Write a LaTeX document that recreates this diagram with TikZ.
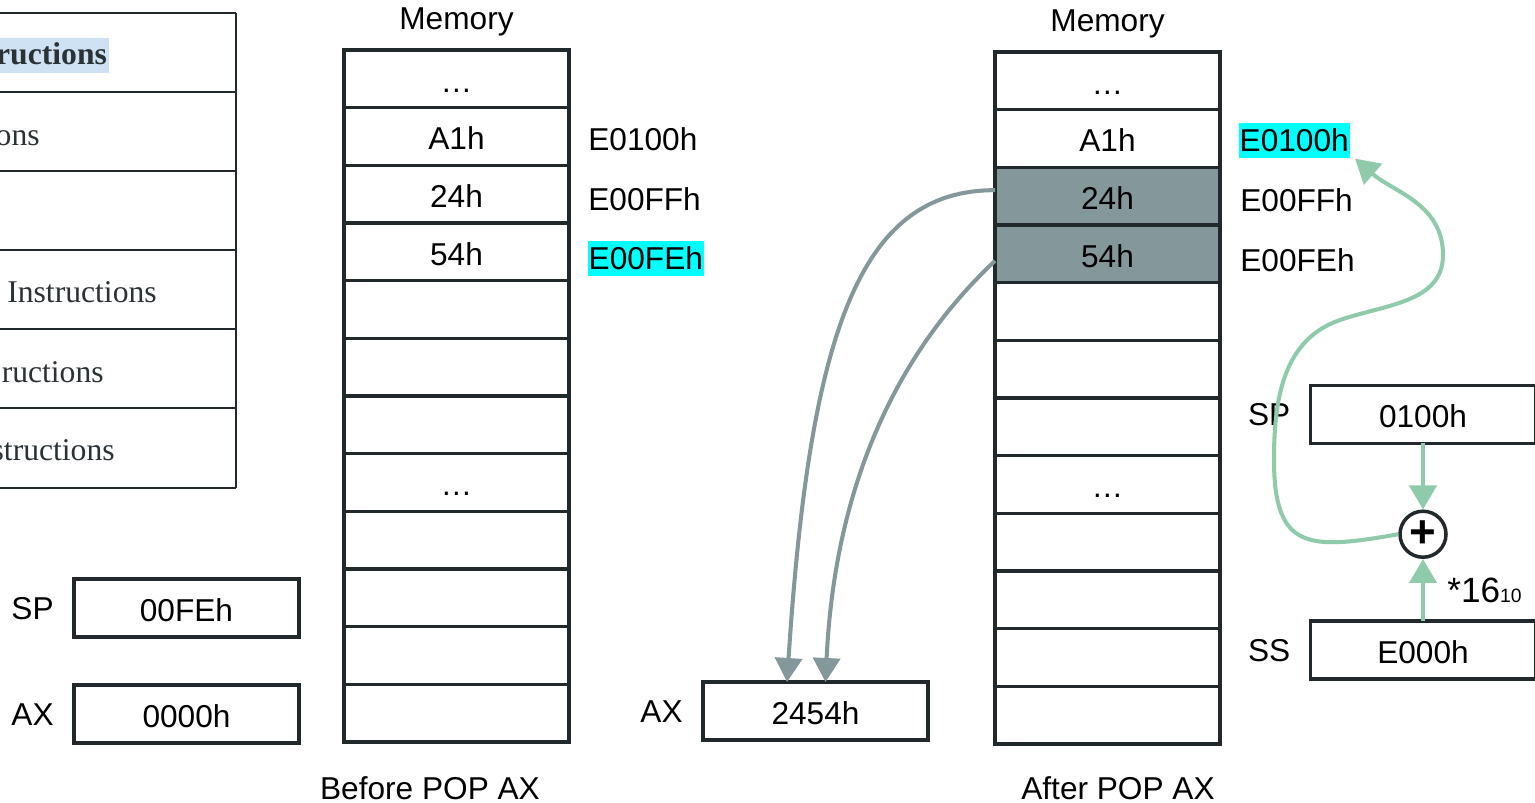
\documentclass[tikz,border=0pt]{standalone}
\usepackage{fontspec}
\setmainfont{Liberation Serif}
\setsansfont{Liberation Sans}
\usetikzlibrary{positioning, arrows.meta}

\definecolor{lineDark}{HTML}{22292C}
\definecolor{popGray}{HTML}{84979B}
\definecolor{flowGreen}{HTML}{8FCBAA}
\definecolor{hlCyan}{HTML}{00FFFF}
\definecolor{hlBlue}{HTML}{CFE2F3}
\definecolor{tblText}{HTML}{2A3235}

\tikzset{
  cell/.style={draw=lineDark, line width=1.8pt, minimum width=4.5cm, minimum height=1.153cm,
    inner sep=0pt, outer sep=0pt, text height=15pt, text depth=0pt,
    font=\sffamily\fontsize{18}{21}\selectfont},
  popped/.style={cell, fill=popGray},
  reg/.style={cell, minimum height=1.16cm},
  lbl/.style={inner sep=0pt, text height=13pt, text depth=0pt, font=\sffamily\fontsize{18}{21}\selectfont},
  hot/.style={lbl, fill=hlCyan, inner xsep=0.5pt, inner ysep=3.6pt},
  tbl/.style={inner sep=0pt, text=tblText, font=\rmfamily\fontsize{18}{21}\selectfont},
  grid/.style={draw=lineDark, line width=1.5pt},
  adder/.style={circle, draw=lineDark, line width=2pt, fill=white, minimum size=0.92cm, inner sep=0pt,
    font=\sffamily\bfseries\fontsize{26}{26}\selectfont},
  flow/.style={->, draw=flowGreen, line width=2.3pt},
  fetch/.style={->, draw=popGray, line width=2.3pt},
}

\begin{document}
\begin{tikzpicture}[x=0.02cm, y=-0.02cm, >={Triangle[width=0.54cm, length=0.48cm]}]
    \useasboundingbox (0,0) rectangle (1535,803);
    \clip (0,0) rectangle (1535,803);

    % Instruction table, cut by the left edge
    \foreach \y in {13,92,171,250,329,408,488}
        \draw[grid] (-5,\y) -- (236,\y);
    \draw[grid] (236,13) -- (236,488);
    \node[tbl, anchor=base east, fill=hlBlue, inner xsep=1pt, text height=15.2pt, text depth=4.7pt,
        font=\rmfamily\bfseries\fontsize{18}{21}\selectfont] (t1) at (109,65) {ructions};
    \node[tbl, anchor=base east] (t2) at (40,146) {ons};
    \node[tbl, anchor=base west] (t4) at (7,303) {Instructions};
    \node[tbl, anchor=base east] (t5) at (104,383) {ructions};
    \node[tbl, anchor=base east] (t6) at (115,461) {structions};

    % Memory before the pop
    \foreach \t [count=\i] in {…, A1h, 24h, 54h, {}, {}, {}, …, {}, {}, {}, {}}
        \node[cell] (b\i) at (456.5, {50+57.67*(\i-0.5)}) {\t};
    \node[lbl, above=0.4cm of b1] (memB) {Memory};
    \node[lbl, right=0.38cm of b2, yshift=-0.06cm] (b2a) {E0100h};
    \node[lbl, right=0.38cm of b3, yshift=-0.1cm] (b3a) {E00FFh};
    \node[hot, right=0.37cm of b4, yshift=-0.13cm] (b4a) {E00FEh};
    \node[lbl] (before) at (430,788) {Before POP AX};

    % Registers before the pop
    \node[reg] (sp1) at (186.5,608) {00FEh};
    \node[lbl, left=0.4cm of sp1] (sp1n) {SP};
    \node[reg] (ax1) at (186.5,714) {0000h};
    \node[lbl, left=0.4cm of ax1] (ax1n) {AX};

    % Memory after the pop
    \foreach \t/\s [count=\i] in {…/cell, A1h/cell, 24h/popped, 54h/popped, {}/cell, {}/cell,
                                  {}/cell, …/cell, {}/cell, {}/cell, {}/cell, {}/cell}
        \node[\s] (a\i) at (1107.5, {52+57.67*(\i-0.5)}) {\t};
    \node[lbl, above=0.4cm of a1] (memA) {Memory};
    \node[hot, right=0.37cm of a2, yshift=-0.04cm] (a2a) {E0100h};
    \node[lbl, right=0.4cm of a3, yshift=-0.08cm] (a3a) {E00FFh};
    \node[lbl, right=0.4cm of a4, yshift=-0.12cm] (a4a) {E00FEh};
    \node[lbl] (after) at (1118,788) {After POP AX};

    % Registers after the pop
    \node[reg] (ax2) at (815.5,711) {2454h};
    \node[lbl, left=0.4cm of ax2] (ax2n) {AX};
    \node[reg] (sp2) at (1423,414.5) {0100h};
    \node[lbl, left=0.4cm of sp2] (sp2n) {SP};
    \node[adder, below=1.32cm of sp2] (sum) {+};
    \node[reg, below=1.24cm of sum] (ss2) {E000h};
    \node[lbl, left=0.4cm of ss2] (ss2n) {SS};
    \node[lbl, anchor=west, text height=14.5pt, font=\sffamily\fontsize{20}{23}\selectfont] (mul)
        at (1447,590) {*16{\fontsize{11}{12}\selectfont 10}};

    % Popped bytes go into AX
    \draw[fetch] ([yshift=0.12cm]a3.west) .. controls (860,190) and (810,330) .. ([xshift=-0.57cm]ax2.north);
    \draw[fetch] ([yshift=-0.14cm]a4.west) .. controls (900,350) and (835,480) .. ([xshift=0.2cm]ax2.north);

    % New stack top address
    \coordinate (loopL) at (1274,460);
    \coordinate (loopM) at (1340,320);
    \coordinate (loopR) at (1443,255);
    \draw[flow] (sp2) -- (sum);
    \draw[flow] (ss2) -- (sum);
    \draw[flow] (sum.west) to[out=190, in=270, looseness=1.6] (loopL)
        to[out=90, in=199] (loopM) to[out=19, in=270] (loopR)
        to[out=90, in=-41] ([xshift=0.1cm]a2a.south east);
\end{tikzpicture}
\end{document}
